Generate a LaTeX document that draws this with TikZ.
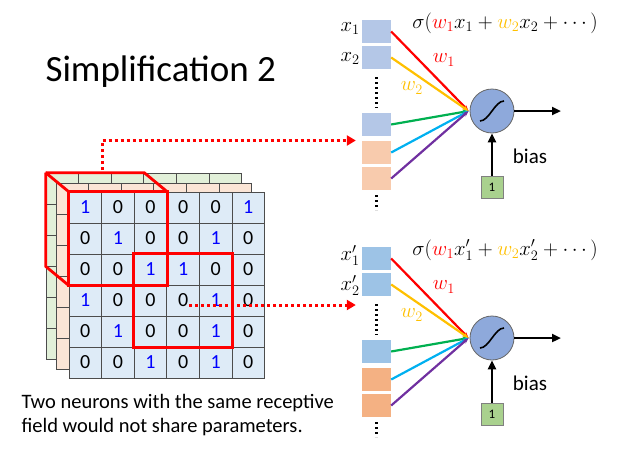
\documentclass[tikz,border=0pt]{standalone}
\usepackage{fontspec}
\setmainfont{Carlito}
\usepackage{amsmath}
\usetikzlibrary{positioning, arrows.meta, calc}
\definecolor{gridblue}{HTML}{DEEBF7}
\definecolor{gridorange}{HTML}{FBE5D6}
\definecolor{gridgreen}{HTML}{E2F0D9}
\definecolor{inblue}{HTML}{B4C7E7}
\definecolor{inorange}{HTML}{F8CBAD}
\definecolor{inblueB}{HTML}{9DC3E6}
\definecolor{inorangeB}{HTML}{F4B183}
\definecolor{wred}{HTML}{FF0000}
\definecolor{wyellow}{HTML}{FFC000}
\definecolor{wgreen}{HTML}{00B050}
\definecolor{wcyan}{HTML}{00B0F0}
\definecolor{wpurple}{HTML}{7030A0}
\definecolor{neuronfill}{HTML}{8EA9DB}
\definecolor{biasfill}{HTML}{A9D18E}
\tikzset{
  cell/.style={draw=black!70, line width=0.7pt, minimum width=32.6pt, minimum height=31pt, inner sep=0, font=\fontsize{20}{20}\selectfont},
  inbox/.style={minimum width=29pt, minimum height=23pt, inner sep=0},
  rf/.style={draw=red, line width=2.8pt},
  pointer/.style={red, line width=3pt, dash pattern=on 3pt off 3pt, -{Triangle[length=9pt,width=10pt]}},
  wire/.style={line width=2.2pt, -{Stealth[length=6pt]}},
  black arrow/.style={line width=2.4pt, -{Triangle[length=9pt,width=8pt]}}
}
% one neuron: prefix, y offset, upper colour, lower colour, prime
\newcommand\neuron[5]{
  \begin{scope}[yshift=#2]
    \node [inbox, fill=#3] (#1i1) at (376.5,-31.5) {};
    \node [inbox, fill=#3] (#1i2) at (376.5,-57.5) {};
    \node [inbox, fill=#3] (#1i3) at (376.5,-124.5) {};
    \node [inbox, fill=#4] (#1i4) at (376.5,-152.5) {};
    \node [inbox, fill=#4] (#1i5) at (376.5,-178.5) {};
    \draw [line width=2.2pt, dash pattern=on 2pt off 3pt] (376.5,-77) -- (376.5,-108);
    \draw [line width=2.2pt, dash pattern=on 2pt off 3pt] (376.5,-195) -- (376.5,-210);
    \node [left=1pt of #1i1, yshift=3pt, inner sep=1pt, font=\fontsize{20}{20}\selectfont] {$x_1#5$};
    \node [left=1pt of #1i2, yshift=-1pt, inner sep=1pt, font=\fontsize{20}{20}\selectfont] {$x_2#5$};
    \node [circle, draw=black!60, line width=0.8pt, fill=neuronfill, minimum size=44pt, inner sep=0] (#1n) at (492,-111) {};
    \draw [line width=1.6pt] (#1n.center) ++(-12,-10) .. controls ++(9,0) and ++(-9,0) .. ++(24,20);
    \coordinate (#1in) at ($(#1n.west)+(-1,0)$);
    \draw [wire, wred] (#1i1.east) -- (#1in);
    \draw [wire, wyellow] (#1i2.east) -- (#1in);
    \draw [wire, wgreen] (#1i3.east) -- (#1in);
    \draw [wire, wcyan] (#1i4.east) -- (#1in);
    \draw [wire, wpurple] (#1i5.east) -- (#1in);
    \node [wred, font=\fontsize{20}{20}\selectfont] at (444,-60) {$w_1$};
    \node [wyellow, font=\fontsize{20}{20}\selectfont] at (412,-88) {$w_2$};
    \coordinate (#1out) at (561,-111);
    \draw [black arrow] (#1n) -- (#1out);
    \node [draw=black!50, fill=biasfill, minimum width=22pt, minimum height=22pt, inner sep=0, font=\fontsize{13}{13}\selectfont] (#1b) at (492,-187) {1};
    \draw [black arrow] (#1b) -- (#1n);
    \node [font=\fontsize{21}{21}\selectfont] at (530,-156) {bias};
    \node [font=\fontsize{22}{22}\selectfont] at (505,-23) {$\sigma(\textcolor{wred}{w_1}x_1#5+\textcolor{wyellow}{w_2}x_2#5+\cdots\,)$};
  \end{scope}
}

\begin{document}
\begin{tikzpicture}[x=1pt, y=1pt]
  \useasboundingbox (0,0) rectangle (638,-450);

  \node [anchor=west, font=\fontsize{37}{37}\selectfont] (title) at (42,-72) {Simplification 2};

  % stacked feature maps
  \foreach \dx/\dy/\col in {-23/19/gridgreen, -13/9/gridorange}
    \foreach \r in {0,...,5}
      \foreach \c in {0,...,5}
        \node [cell, fill=\col] at (85.3+32.6*\c+\dx, -207.5-31*\r+\dy) {};
  \foreach \row [count=\r from 0] in {{1,0,0,0,0,1},{0,1,0,0,1,0},{0,0,1,1,0,0},{1,0,0,0,1,0},{0,1,0,0,1,0},{0,0,1,0,1,0}}
    \foreach \v [count=\c from 0] in \row {
      \ifnum\v=1
        \node [cell, fill=gridblue, text=blue] (g\r\c) at (85.3+32.6*\c, -207.5-31*\r) {1};
      \else
        \node [cell, fill=gridblue] (g\r\c) at (85.3+32.6*\c, -207.5-31*\r) {0};
      \fi
    }

  % receptive fields
  \draw [rf] (g00.north west) rectangle (g22.south east);
  \draw [rf] ($(g00.north west)+(-23,19)$) -- ($(g02.north east)+(-23,19)$) -- (g02.north east);
  \draw [rf] ($(g00.north west)+(-23,19)$) -- ($(g20.south west)+(-23,19)$) -- (g20.south west);
  \draw [rf] ($(g00.north west)+(-23,19)$) -- (g00.north west);
  \draw [rf] (g22.north west) rectangle (g44.south east);

  \neuron{a}{0pt}{inblue}{inorange}{}
  \neuron{b}{-227pt}{inblueB}{inorangeB}{'}

  \coordinate (p1) at (102,-170);
  \draw [pointer] (p1) |- ($(ai4.west)+(-6,12)$);
  \coordinate (p2) at (189,-305);
  \draw [pointer] (p2) -- ($(p2 -| bi3.west)+(-6,0)$);

  \node [anchor=north west, align=left, font=\fontsize{20.5}{24}\selectfont] (caption) at (18,-391)
    {Two neurons with the same receptive\\field would not share parameters.};
\end{tikzpicture}
\end{document}
